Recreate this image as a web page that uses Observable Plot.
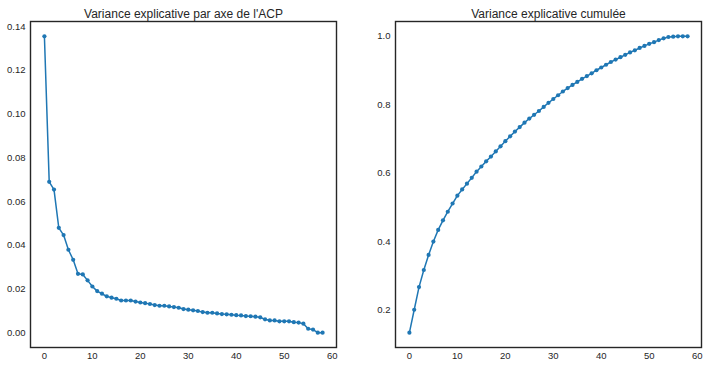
<!DOCTYPE html>
<html>
<head>
<meta charset="utf-8">
<script src="https://cdn.jsdelivr.net/npm/d3@7"></script>
<script src="https://cdn.jsdelivr.net/npm/@observablehq/plot@0.6"></script>
<style>
  html, body { margin: 0; padding: 0; background: #fff; }
  #fig { position: relative; width: 708px; height: 367px; overflow: hidden; }
  #fig svg { position: absolute; top: 0; }
</style>
</head>
<body>
<div id="fig"></div>
<script>
// Component index (PCA axis number)
const axes = [0,1,2,3,4,5,6,7,8,9,10,11,12,13,14,15,16,17,18,19,20,21,22,23,24,25,26,27,28,29,
  30,31,32,33,34,35,36,37,38,39,40,41,42,43,44,45,46,47,48,49,50,51,52,53,54,55,56,57,58];

// Explained variance ratio per axis
const varianceRatio = [0.1355,0.069,0.0655,0.048,0.0447,0.038,0.0334,0.027,0.0267,0.024,
  0.0212,0.0191,0.0179,0.0167,0.0161,0.0156,0.0148,0.0148,0.0148,0.0143,
  0.0139,0.0136,0.0132,0.0127,0.0124,0.0124,0.0121,0.0118,0.0115,0.0109,
  0.0106,0.0103,0.0100,0.0095,0.0092,0.0092,0.0089,0.0086,0.0085,0.0083,
  0.0081,0.0080,0.0077,0.0076,0.0074,0.0071,0.0062,0.0057,0.0057,0.0053,
  0.0053,0.0053,0.0049,0.0047,0.0042,0.0019,0.0015,0.0001,0.0001];

// Cumulative explained variance
const cumulativeRatio = [0.135,0.202,0.268,0.318,0.362,0.401,0.435,0.463,0.488,0.512,
  0.535,0.553,0.570,0.587,0.605,0.620,0.635,0.649,0.664,0.679,
  0.694,0.708,0.722,0.735,0.748,0.760,0.771,0.782,0.794,0.806,
  0.817,0.828,0.839,0.849,0.858,0.867,0.876,0.884,0.892,0.901,
  0.909,0.917,0.925,0.932,0.939,0.946,0.953,0.959,0.966,0.972,
  0.978,0.983,0.989,0.994,0.998,0.999,1.0,1.0,1.0];

const xTicks = [0,10,20,30,40,50,60];
const yTicksLeft = [0.00,0.02,0.04,0.06,0.08,0.10,0.12,0.14];
const yTicksRight = [0.2,0.4,0.6,0.8,1.0];

const titleLeft = "Variance explicative par axe de l'ACP";
const titleRight = "Variance explicative cumulée";

const blue = "#1f77b4";
const ink = "#262626";
const font = "'Liberation Sans', Arial, sans-serif";

function panel({values, title, yTicks, yFormat, width, marginLeft, marginRight}) {
  const data = axes.map((a, i) => ({x: a, y: values[i]}));
  const ymin = d3.min(values), ymax = d3.max(values);
  const pad = (ymax - ymin) * 0.05;
  const xpad = (d3.max(axes) - d3.min(axes)) * 0.05;
  return Plot.plot({
    width,
    height: 367,
    marginLeft,
    marginRight,
    marginTop: 21,
    marginBottom: 20,
    style: {fontFamily: font, fontSize: "9.5px", color: ink, background: "#fff", overflow: "visible"},
    x: {domain: [d3.min(axes) - xpad, d3.max(axes) + xpad], ticks: xTicks, tickSize: 0, tickPadding: 5, tickFormat: d3.format("d"), label: null},
    y: {domain: [ymin - pad, ymax + pad], ticks: yTicks, tickSize: 0, tickPadding: 5, tickFormat: d3.format(yFormat), label: null},
    marks: [
      Plot.line(data, {x: "x", y: "y", stroke: blue, strokeWidth: 1.5}),
      Plot.dot(data, {x: "x", y: "y", r: 2.1, fill: blue, stroke: "none"}),
      Plot.frame({stroke: ink, strokeWidth: 1.4}),
      Plot.text([title], {frameAnchor: "top", lineAnchor: "bottom", dy: -4, fontSize: 12, fill: ink, text: d => d})
    ]
  });
}

const fig = document.getElementById("fig");
const left = panel({values: varianceRatio, title: titleLeft, yTicks: yTicksLeft, yFormat: ".2f", width: 360, marginLeft: 30, marginRight: 24});
left.style.left = "0px";
const right = panel({values: cumulativeRatio, title: titleRight, yTicks: yTicksRight, yFormat: ".1f", width: 348, marginLeft: 35, marginRight: 7});
right.style.left = "360px";
fig.appendChild(left);
fig.appendChild(right);
</script>
</body>
</html>
